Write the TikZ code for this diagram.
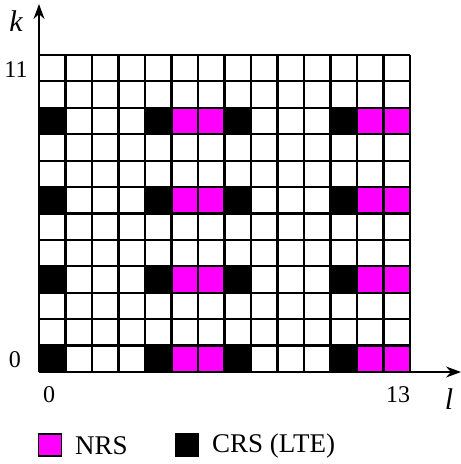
\documentclass[tikz,border=0pt]{standalone}
\usepackage{fontspec}
\setmainfont{Liberation Serif}
\usetikzlibrary{arrows.meta}
\definecolor{nrs}{RGB}{255,0,255}
\begin{document}
\begin{tikzpicture}[x=1pt,y=-1pt,
  gridline/.style={line width=2.2pt},
  axis/.style={line width=1.6pt,-{Stealth[length=15pt,width=11pt]}},
  lbl/.style={font=\fontsize{24}{24}\selectfont,inner sep=0pt},
  axlbl/.style={inner sep=0pt,font=\fontsize{30}{30}\selectfont\itshape},
  leglbl/.style={inner sep=0pt,anchor=west,font=\fontsize{27}{27}\selectfont},
  cellnrs/.style={fill=nrs},
  cellcrs/.style={fill=black},
  legbox/.style={draw=black,line width=1.8pt,minimum width=23pt,minimum height=22pt,inner sep=0pt}]
\useasboundingbox (0,0) rectangle (461,464);
\def\cw{26.5}
\def\rh{26.42}
\def\xo{39}
\def\yo{372}
% filled cells
\foreach \j in {0,3,6,9}{
  \foreach \i in {0,4,7,11}{
    \fill[cellcrs] (\xo+\cw*\i,\yo-\rh*\j) rectangle (\xo+\cw*\i+\cw,\yo-\rh*\j-\rh);
  }
  \foreach \i in {5,6,12,13}{
    \fill[cellnrs] (\xo+\cw*\i,\yo-\rh*\j) rectangle (\xo+\cw*\i+\cw,\yo-\rh*\j-\rh);
  }
}
% grid lines
\foreach \i in {0,...,14}{
  \draw[gridline] (\xo+\cw*\i,\yo) -- (\xo+\cw*\i,\yo-12*\rh);
}
\foreach \j in {0,...,12}{
  \draw[gridline] (\xo,\yo-\rh*\j) -- (\xo+14*\cw,\yo-\rh*\j);
}
% axes
\coordinate (origin) at (\xo,\yo);
\coordinate (ktip) at (\xo,4);
\coordinate (ltip) at (461,\yo);
\draw[axis] (origin) -- (ktip);
\draw[axis] (origin) -- (ltip);
\node[axlbl] (k) at (16,21) {k};
\node[axlbl] (l) at (449,399) {l};
\node[lbl] (y11) at (16,70) {11};
\node[lbl] (y0) at (15,360) {0};
\node[lbl] (x0) at (49,395) {0};
\node[lbl] (x13) at (398,395) {13};
% legend
\node[legbox,fill=nrs] (lnrs) at (50,445) {};
\node[leglbl] (tnrs) at (75,446) {NRS};
\node[legbox,fill=black] (lcrs) at (187,445) {};
\node[leglbl] (tcrs) at (212,446) {CRS (LTE)};
\end{tikzpicture}
\end{document}
